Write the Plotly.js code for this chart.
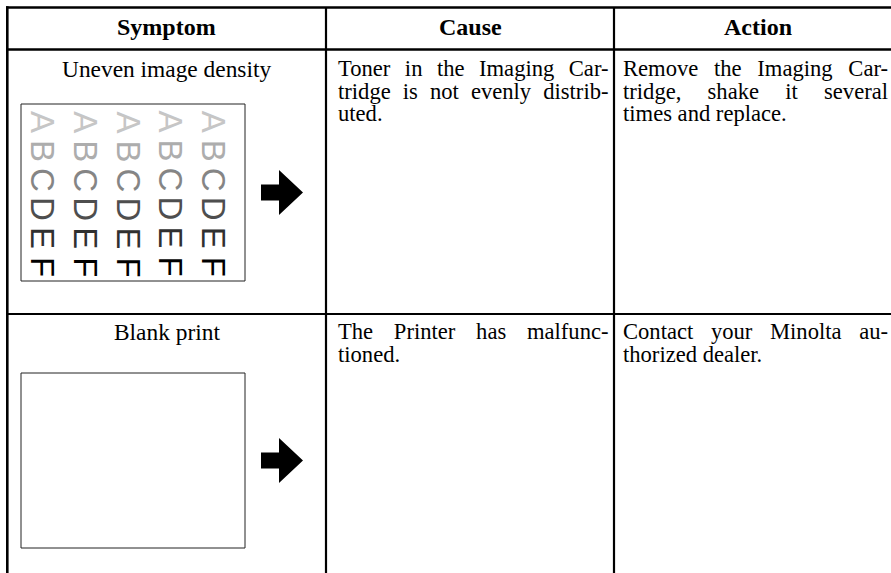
<!DOCTYPE html>
<html>
<head>
<meta charset="utf-8">
<script src="https://cdn.plot.ly/plotly-3.0.1.min.js"></script>
<style>html,body{margin:0;padding:0;background:#fff;}#chart{width:891px;height:573px;}</style>
</head>
<body>
<div id="chart"></div>
<script>
// ---- data ----
const headers = ['Symptom', 'Cause', 'Action'];
const symptoms = ['Uneven image density', 'Blank print'];
const causeLines = [
  ['Toner in the Imaging Car-', 'tridge is not evenly distrib-', 'uted.'],
  ['The Printer has malfunc-', 'tioned.']
];
const actionLines = [
  ['Remove the Imaging Car-', 'tridge, shake it several', 'times and replace.'],
  ['Contact your Minolta au-', 'thorized dealer.']
];
const densityLetters = ['A', 'B', 'C', 'D', 'E', 'F'];
const letterGrays = ['#c6c6c6', '#adadad', '#858585', '#4e4e4e', '#303030', '#000000'];
const letterColumns = 5;

// ---- layout geometry ----
const W = 891, H = 573;
const colEdges = [7.3, 326, 614, 902];
const rowEdges = [7.5, 49.5, 314, 573];
const textLeft = [0, 337.5, 623];
const textRight = [0, 608, 888];
const FONT = 'Liberation Serif';
const bodySize = 22.6, headSize = 24, lineGap = 22.7;
const firstBaseline = [26.8, 25.2]; // from row top to first baseline
const ASCENT = 0.891;
const pictureBoxes = [
  {x0: 21, x1: 245, y0: 104, y1: 281},
  {x0: 21, x1: 245, y0: 373, y1: 548}
];

const canvas = document.createElement('canvas');
const ctx = canvas.getContext('2d');
function measure(t, size, weight) {
  ctx.font = (weight || 'normal') + ' ' + size + 'px "' + FONT + '"';
  return ctx.measureText(t).width;
}

const annotations = [];
const shapes = [];
const paraMeta = [];
const bodyFont = {family: FONT, size: bodySize, color: '#000'};

// headers
headers.forEach((h, i) => {
  annotations.push({
    text: '<b>' + h + '</b>', x: (colEdges[i] + colEdges[i + 1]) / 2, y: 26.5, xref: 'x', yref: 'y',
    showarrow: false, xanchor: 'center', yanchor: 'middle', borderpad: 0, borderwidth: 0,
    font: {family: FONT, size: headSize, color: '#000'}
  });
});

// justified paragraph: one text per cell, lines re-spaced after drawing
function paragraph(lines, col, rowIdx) {
  const left = textLeft[col];
  const target = textRight[col] - left;
  const base = rowEdges[rowIdx + 1] + firstBaseline[rowIdx];
  const spacing = lines.map((line, li) => {
    if (li === lines.length - 1) return 0;
    const n = line.split(' ').length - 1;
    return n > 0 ? (target - measure(line, bodySize)) / n : 0;
  });
  paraMeta.push({index: annotations.length, spacing: spacing});
  annotations.push({
    text: lines.join('<br>'), x: left, y: base - ASCENT * bodySize, xref: 'x', yref: 'y',
    showarrow: false, xanchor: 'left', yanchor: 'top', align: 'left',
    borderpad: 0, borderwidth: 0, font: bodyFont
  });
}

symptoms.forEach((s, r) => {
  const base = rowEdges[r + 1] + firstBaseline[r];
  annotations.push({
    text: s, x: (colEdges[0] + colEdges[1]) / 2, y: base - ASCENT * bodySize, xref: 'x', yref: 'y',
    showarrow: false, xanchor: 'center', yanchor: 'top', borderpad: 0, borderwidth: 0,
    font: {family: FONT, size: bodySize + 0.8, color: '#000'}
  });
  paragraph(causeLines[r], 1, r);
  paragraph(actionLines[r], 2, r);
});

// letter grid in first picture
const b0 = pictureBoxes[0];
densityLetters.forEach((L, ri) => {
  for (let c = 0; c < letterColumns; c++) {
    annotations.push({
      text: L, x: b0.x0 + 22 + c * 42.8, y: 122 + ri * 29, xref: 'x', yref: 'y',
      showarrow: false, xanchor: 'center', yanchor: 'middle', textangle: 90,
      borderpad: 0, borderwidth: 0,
      font: {family: 'Liberation Sans', size: 33, color: letterGrays[ri]}
    });
  }
});

// table lines
const lineStyle = (w) => ({color: '#000', width: w});
shapes.push({type: 'line', x0: 6, x1: W, y0: rowEdges[0], y1: rowEdges[0], line: lineStyle(2.6)});
shapes.push({type: 'line', x0: 6, x1: W, y0: rowEdges[1], y1: rowEdges[1], line: lineStyle(2.6)});
shapes.push({type: 'line', x0: 6, x1: W, y0: rowEdges[2], y1: rowEdges[2], line: lineStyle(2.2)});
shapes.push({type: 'line', x0: colEdges[0], x1: colEdges[0], y0: rowEdges[0] - 1.3, y1: H, line: lineStyle(2.6)});
[1, 2].forEach(i => shapes.push({type: 'line', x0: colEdges[i], x1: colEdges[i], y0: rowEdges[0], y1: H, line: lineStyle(2.2)}));

// picture boxes and arrows
pictureBoxes.forEach(b => {
  shapes.push({type: 'rect', x0: b.x0, x1: b.x1, y0: b.y0, y1: b.y1, line: {color: '#222', width: 1}, fillcolor: 'rgba(0,0,0,0)'});
  const cy = (b.y0 + b.y1) / 2;
  const ax = b.x1 + 16;
  const p = 'M' + ax + ',' + (cy - 8) + ' L' + (ax + 18) + ',' + (cy - 8) + ' L' + (ax + 18) + ',' + (cy - 22.5) +
    ' L' + (ax + 42) + ',' + cy + ' L' + (ax + 18) + ',' + (cy + 22.5) + ' L' + (ax + 18) + ',' + (cy + 8) +
    ' L' + ax + ',' + (cy + 8) + ' Z';
  shapes.push({type: 'path', path: p, fillcolor: '#000', line: {width: 0}});
});

const gd = document.getElementById('chart');
function respace() {
  const groups = gd.querySelectorAll('.annotation');
  paraMeta.forEach(m => {
    const g = gd.querySelector('.annotation[data-index="' + m.index + '"]') || groups[m.index];
    if (!g) return;
    const tspans = g.querySelectorAll('text.annotation-text tspan.line');
    tspans.forEach((t, li) => {
      t.setAttribute('dy', (li * lineGap / bodySize) + 'em');
      if (m.spacing[li]) t.style.wordSpacing = m.spacing[li].toFixed(2) + 'px';
    });
  });
}

Plotly.newPlot(gd, [{x: [0, W], y: [0, H], mode: 'markers', marker: {opacity: 0}, hoverinfo: 'skip', showlegend: false}], {
  width: W, height: H, margin: {l: 0, r: 0, t: 0, b: 0},
  paper_bgcolor: '#fff', plot_bgcolor: '#fff',
  xaxis: {range: [0, W], visible: false, fixedrange: true},
  yaxis: {range: [H, 0], visible: false, fixedrange: true},
  shapes: shapes, annotations: annotations, showlegend: false
}, {staticPlot: true, displayModeBar: false}).then(respace);
</script>
</body>
</html>
